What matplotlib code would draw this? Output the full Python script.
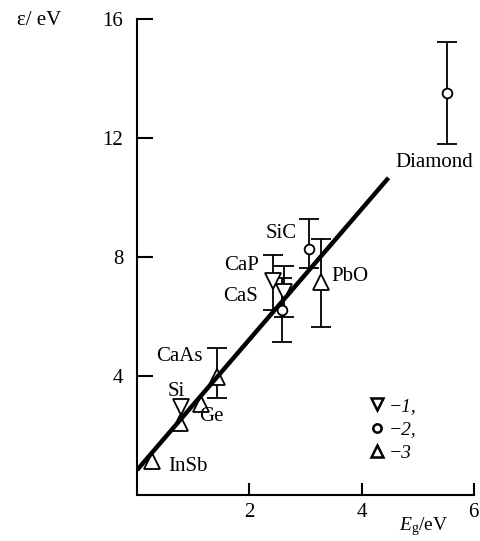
import matplotlib
matplotlib.use("Agg")
import matplotlib.pyplot as plt
from matplotlib.lines import Line2D

plt.rcParams["font.family"] = ["Liberation Serif", "DejaVu Serif"]
plt.rcParams["mathtext.fontset"] = "custom"
plt.rcParams["mathtext.rm"] = "Liberation Serif"
plt.rcParams["mathtext.it"] = "Liberation Serif:italic"

# series 1 (down triangles)
x1 = [0.78, 2.42, 2.62]
y1 = [2.97, 7.20, 6.83]
err1_lo = [0.0, 0.98, 0.85]
err1_hi = [0.0, 0.85, 0.85]

# series 2 (circles)
x2 = [2.59, 3.07, 5.52]
y2 = [6.22, 8.27, 13.51]
err2_lo = [1.07, 0.65, 1.70]
err2_hi = [1.07, 1.00, 1.70]

# series 3 (up triangles)
x3 = [0.27, 0.77, 1.14, 1.42, 3.27]
y3 = [1.15, 2.41, 3.06, 3.98, 7.17]
err3_lo = [0.0, 0.0, 0.0, 0.71, 1.53]
err3_hi = [0.0, 0.0, 0.0, 0.95, 1.42]

# linear fit
fit_x = [0.0, 4.48]
fit_y = [0.84, 10.66]

# point labels
names = ["Diamond", "SiC", "CaP", "CaS", "PbO", "CaAs", "Si", "Ge", "InSb"]
name_x = [5.30, 2.56, 1.86, 1.85, 3.79, 0.75, 0.69, 1.33, 0.90]
name_y = [11.19, 8.80, 7.70, 6.67, 7.34, 4.65, 3.47, 2.63, 0.95]

legend_labels = ["\u22121,", "\u22122,", "\u22123"]


def draw_series(ax, x, y, lo, hi, marker, ms):
    ex, ey, elo, ehi = [], [], [], []
    for xi, yi, l, h in zip(x, y, lo, hi):
        if l > 0 or h > 0:
            ex.append(xi); ey.append(yi); elo.append(l); ehi.append(h)
    if ex:
        ax.errorbar(ex, ey, yerr=[elo, ehi], fmt="none", ecolor="black",
                    elinewidth=1.3, capsize=7, capthick=1.3, zorder=2)
    ax.plot(x, y, linestyle="none", marker=marker, ms=ms, mfc="white",
            mec="black", mew=1.3, zorder=3)


def main():
    fig = plt.figure(figsize=(4.81, 5.41), dpi=100)
    ax = fig.add_axes([0.285, 0.085, 0.700, 0.880])

    draw_series(ax, x1, y1, err1_lo, err1_hi, "v", 12)
    draw_series(ax, x2, y2, err2_lo, err2_hi, "o", 7)
    draw_series(ax, x3, y3, err3_lo, err3_hi, "^", 12)

    ax.plot(fit_x, fit_y, color="black", lw=3.2, solid_capstyle="butt", zorder=4)

    for n, tx, ty in zip(names, name_x, name_y):
        ax.text(tx, ty, n, fontsize=15, ha="center", va="center")

    ax.set_xlim(0, 6)
    ax.set_ylim(0, 16)
    ax.set_xticks([2, 4, 6])
    ax.set_yticks([4, 8, 12, 16])
    for s in ["top", "right"]:
        ax.spines[s].set_visible(False)
    for s in ["left", "bottom"]:
        ax.spines[s].set_linewidth(1.5)
    ax.tick_params(axis="y", direction="in", length=11.5, width=1.5, pad=10, labelsize=15)
    ax.tick_params(axis="x", direction="in", length=8.5, width=1.5, pad=6, labelsize=15)

    ax.set_xlabel(r"$E_{\rm g}$/eV", fontsize=14)
    ax.xaxis.set_label_coords(0.85, -0.042)
    fig.text(0.035, 0.963, "ε/ eV", fontsize=15, ha="left", va="center")

    handles = [
        Line2D([], [], linestyle="none", marker="v", ms=9, mfc="white", mec="black", mew=1.8),
        Line2D([], [], linestyle="none", marker="o", ms=6, mfc="white", mec="black", mew=1.8),
        Line2D([], [], linestyle="none", marker="^", ms=9, mfc="white", mec="black", mew=1.8),
    ]
    ax.legend(handles, legend_labels, loc="upper left", bbox_to_anchor=(0.69, 0.205),
              frameon=False, prop={"size": 14, "style": "italic"}, borderpad=0,
              borderaxespad=0, handlelength=0.8, handletextpad=0.2, labelspacing=0.3)

    fig.savefig("out.png", dpi=100)


if __name__ == "__main__":
    main()
